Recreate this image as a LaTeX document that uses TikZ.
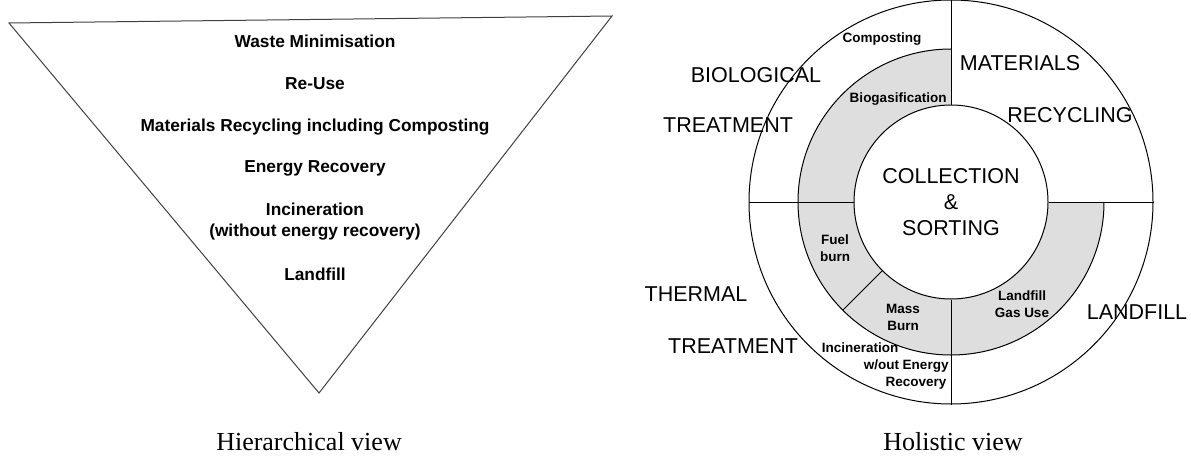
\documentclass[tikz,border=0pt]{standalone}
\usepackage{fontspec}
\setmainfont{Liberation Sans}
\newfontfamily\capfont{Liberation Serif}
\usetikzlibrary{calc}

\begin{document}
\begin{tikzpicture}[x=1pt,y=-1pt,inner sep=0pt,line width=1pt,
				bigtxt/.style={font=\fontsize{21.5}{26}\selectfont,align=center},
				smalltxt/.style={font=\bfseries\fontsize{13.5}{17}\selectfont,align=center},
				hiertxt/.style={font=\bfseries\fontsize{17.3}{21}\selectfont,align=center},
				captxt/.style={font=\capfont\fontsize{26}{30}\selectfont,anchor=base},
				ring/.style={circle,draw,minimum size=#1},
				ringfill/.style={fill=black!13}]
				
				\useasboundingbox (0,0) rectangle (1191,460);
				
				\coordinate (tl) at (9,23);
				\coordinate (tr) at (612,16);
				\coordinate (apex) at (319,393);
				\draw[black!75] (tl) -- (tr) -- (apex) -- cycle;
				
				\foreach \lbl/\yy [count=\i] in {Waste Minimisation/41, Re-Use/84, Materials Recycling including Composting/127, Energy Recovery/168, {Incineration\\(without energy recovery)}/222, Landfill/274}{
					\node[hiertxt] (h\i) at (315,\yy) {\lbl};
				};
				
				\coordinate (hub) at (951,202);
				\fill[ringfill] ($(hub)+(270:153)$) arc[start angle=270,end angle=0,radius=153] -- ($(hub)+(0:97)$) arc[start angle=0,end angle=270,radius=97] -- cycle;
				\node[ring=404pt] (rim) at (hub) {};
				\node[ring=194pt,bigtxt] (core) at (hub) {COLLECTION\\\&\\SORTING};
				\draw ($(hub)+(270:153)$) arc[start angle=270,end angle=0,radius=153];
				\coordinate (split) at ($(hub)+(135:153)$);
				
				\path (core.north) edge (rim.north);
				\path (rim.west) edge (core.west);
				\path (core.east) edge (rim.east);
				\path (core.south) edge (rim.south);
				\path (core.south west) edge (split);
				
				\node[smalltxt] (compost) at (882,39) {Composting};
				\node[smalltxt,anchor=east] (biogas) at (947,99) {Biogasification};
				\node[bigtxt] (mat) at (1020,63) {MATERIALS};
				\node[bigtxt] (recyc) at (1070,115) {RECYCLING};
				\node[smalltxt] (fuel) at (835,248) {Fuel\\burn};
				\node[smalltxt] (mass) at (903,317) {Mass\\Burn};
				\node[smalltxt] (lfgas) at (1022,304) {Landfill\\Gas Use};
				\node[smalltxt] (inc1) at (860,348) {Incineration};
				\node[smalltxt,anchor=east] (inc2) at (949,366) {w/out Energy};
				\node[smalltxt,anchor=east] (inc3) at (947,383) {Recovery};
				
				\node[bigtxt] (bio) at (756,75) {BIOLOGICAL};
				\node[bigtxt] (biotr) at (728,125) {TREATMENT};
				\node[bigtxt] (therm) at (696,294) {THERMAL};
				\node[bigtxt] (thermtr) at (733,346) {TREATMENT};
				\node[bigtxt] (lf) at (1137,312) {LANDFILL};
				
				\node[captxt] (hiercap) at (309,450) {Hierarchical view};
				\node[captxt] (holcap) at (953,450) {Holistic view};
				
			\end{tikzpicture}
\end{document}
